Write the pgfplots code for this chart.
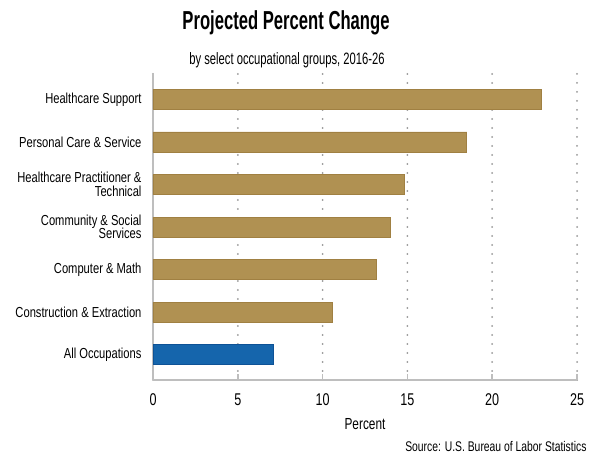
\documentclass[border=0pt]{standalone}
\usepackage{fontspec}
\setmainfont{Liberation Sans}[FakeStretch=0.74]
\newfontfamily\ylabfont{Liberation Sans}[FakeStretch=0.77]
\newfontfamily\titlefont{Liberation Sans}[FakeStretch=0.64]
\newfontfamily\subfont{Liberation Sans}[FakeStretch=0.68]
\usepackage{pgfplots}
\pgfplotsset{compat=1.18}
\definecolor{gold}{RGB}{176,145,82}
\definecolor{goldedge}{RGB}{160,128,66}
\definecolor{barblue}{RGB}{21,101,172}
\definecolor{blueedge}{RGB}{14,82,150}
\definecolor{axgray}{RGB}{190,190,190}
\definecolor{gridgray}{RGB}{150,150,150}
\begin{document}
\begin{tikzpicture}[x=1pt,y=1pt]
\path[use as bounding box] (0,0) rectangle (600,463);
\begin{axis}[
  at={(153pt,83pt)}, anchor=south west,
  scale only axis, width=424pt, height=307pt,
  xmin=0, xmax=25, ymin=-0.59, ymax=6.62,
  xbar, bar width=20pt, bar shift=0pt,
  xtick={0,5,...,25},
  ytick={0,...,6},
  yticklabels={All Occupations, Construction \& Extraction, Computer \& Math, {Community \& Social\\[-2pt]Services}, {Healthcare Practitioner \&\\[-1pt]Technical}, Personal Care \& Service, Healthcare Support},
  axis x line*=bottom, axis y line*=left,
  axis line style={draw=axgray, line width=2pt, -},
  xmajorgrids,
  grid style={draw=gridgray, line width=2pt, line cap=round, dash pattern=on 0pt off 9pt},
  ytick style={draw=none},
  xtick style={draw=axgray, line width=1.5pt},
  tick align=inside, major tick length=6pt,
  yticklabel style={align=right, font=\ylabfont\fontsize{14.5}{15}\selectfont, xshift=-8pt},
  xticklabel style={font=\fontsize{17}{17}\selectfont, yshift=-10pt},
  /pgf/number format/assume math mode=true,
  xlabel={Percent},
  xlabel style={font=\fontsize{16}{16}\selectfont, yshift=-6pt},
]
\addplot[fill=gold, draw=goldedge, line width=0.8pt] coordinates {(10.6,1) (13.2,2) (14.0,3) (14.8,4) (18.5,5) (22.9,6)};
\addplot[fill=barblue, draw=blueedge, line width=0.8pt] coordinates {(7.1,0)};
\end{axis}
\node[font=\titlefont\bfseries\fontsize{26}{26}\selectfont] at (286,440) {Projected Percent Change};
\node[font=\subfont\fontsize{16.5}{16.5}\selectfont] at (287,403) {by select occupational groups, 2016-26};
\node[font=\fontsize{14}{14}\selectfont, anchor=east] at (590,17) {Source: U.S. Bureau of Labor Statistics};
\end{tikzpicture}
\end{document}
